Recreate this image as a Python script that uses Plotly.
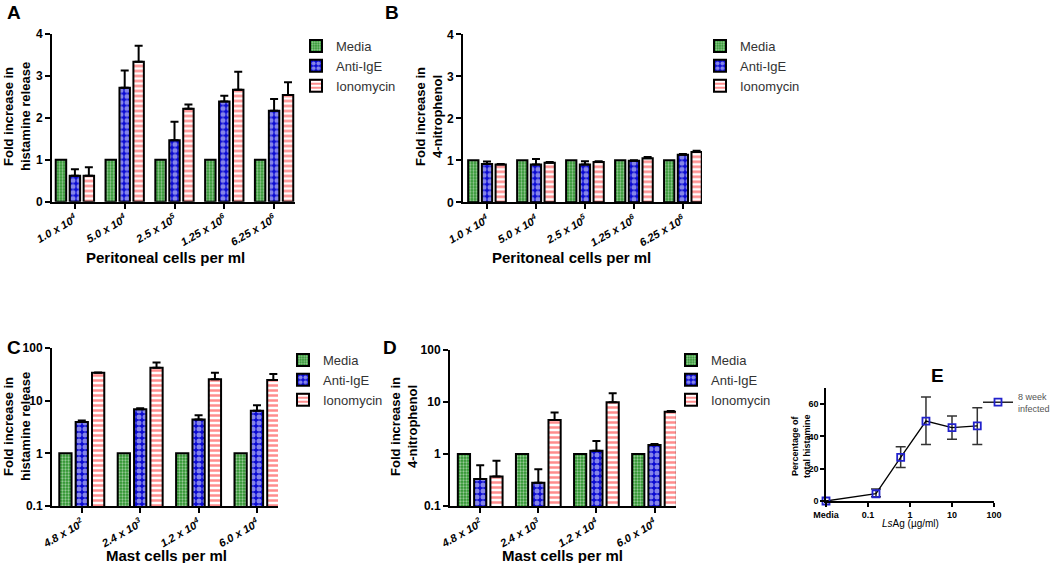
import plotly.graph_objects as go

W, H = 1050, 563

# ---------------- data ----------------
cats_AB = ["1.0 x 10<sup>4</sup>", "5.0 x 10<sup>4</sup>", "2.5 x 10<sup>5</sup>",
           "1.25 x 10<sup>6</sup>", "6.25 x 10<sup>6</sup>"]
cats_CD = ["4.8 x 10<sup>2</sup>", "2.4 x 10<sup>3</sup>", "1.2 x 10<sup>4</sup>",
           "6.0 x 10<sup>4</sup>"]
series_names = ["Media", "Anti-IgE", "Ionomycin"]

A_media = [1, 1, 1, 1, 1]
A_anti = [0.62, 2.71, 1.46, 2.38, 2.16]
A_anti_err = [0.15, 0.41, 0.44, 0.14, 0.28]
A_iono = [0.62, 3.33, 2.21, 2.66, 2.54]
A_iono_err = [0.20, 0.38, 0.10, 0.43, 0.30]

B_media = [1, 1, 1, 1, 1]
B_anti = [0.91, 0.90, 0.90, 0.99, 1.13]
B_anti_err = [0.06, 0.13, 0.08, 0.01, 0.02]
B_iono = [0.90, 0.94, 0.96, 1.05, 1.20]
B_iono_err = [0.01, 0.02, 0.02, 0.03, 0.03]

C_media = [1, 1, 1, 1]
C_anti = [3.95, 6.9, 4.4, 6.4]
C_anti_upper = [4.2, 7.2, 5.3, 8.2]
C_iono = [33.8, 42, 25.4, 24.6]
C_iono_upper = [34.3, 53, 33.8, 32]

D_media = [1, 1, 1, 1]
D_anti = [0.33, 0.28, 1.16, 1.49]
D_anti_upper = [0.61, 0.51, 1.78, 1.55]
D_iono = [0.37, 4.5, 9.9, 6.5]
D_iono_upper = [0.74, 6.3, 14.7, 6.7]

E_x = [0.01, 0.155, 0.6, 2.4, 10, 40]
E_y = [0, 4.5, 27, 49.5, 45.5, 46.5]
E_err_up = [0, 2.9, 6.6, 15.0, 7.2, 11.2]
E_err_down = [0, 1.8, 6.2, 14.5, 7.3, 11.5]
E_ticks = [0.01, 0.1, 1, 10, 100]
E_ticktext = ["Media", "0.1", "1", "10", "100"]

# ---------------- styling ----------------
FONT = "Liberation Sans, Arial, sans-serif"
patterns = [
    dict(shape=".", bgcolor="#2a922a", fgcolor="white", size=3, solidity=0.45),
    dict(shape=".", bgcolor="#0a0ad2", fgcolor="white", size=6, solidity=0.55),
    dict(shape="-", bgcolor="white", fgcolor="#ff1c1c", size=5, solidity=0.5),
]


def px_x(p):
    return p / W


def px_y(p):
    return 1 - p / H


fig = go.Figure()


def add_bars(cats, vals_list, errs_list, xa, ya, legend):
    for i, (name, vals, errs) in enumerate(zip(series_names, vals_list, errs_list)):
        ey = None
        if errs is not None:
            ey = dict(type="data", array=errs, arrayminus=[0] * len(errs),
                      symmetric=False, color="black", thickness=2, width=4)
        fig.add_trace(go.Bar(
            x=cats, y=vals, name=name, xaxis=xa, yaxis=ya, legend=legend,
            marker=dict(pattern=patterns[i], line=dict(color="black", width=2)),
            error_y=ey, offsetgroup=str(i),
        ))


add_bars(cats_AB, [A_media, A_anti, A_iono], [None, A_anti_err, A_iono_err], "x", "y", "legend")
add_bars(cats_AB, [B_media, B_anti, B_iono], [None, B_anti_err, B_iono_err], "x2", "y2", "legend2")
add_bars(cats_CD, [C_media, C_anti, C_iono],
         [None, [u - v for u, v in zip(C_anti_upper, C_anti)],
          [u - v for u, v in zip(C_iono_upper, C_iono)]], "x3", "y3", "legend3")
add_bars(cats_CD, [D_media, D_anti, D_iono],
         [None, [u - v for u, v in zip(D_anti_upper, D_anti)],
          [u - v for u, v in zip(D_iono_upper, D_iono)]], "x4", "y4", "legend4")

fig.add_trace(go.Scatter(
    x=E_x, y=E_y, mode="lines+markers", name="8 week<br>infected",
    xaxis="x5", yaxis="y5", legend="legend5", cliponaxis=False,
    line=dict(color="black", width=1.3),
    marker=dict(symbol="square-open", size=7, color="#2222cc", line=dict(width=1.8, color="#2222cc")),
    error_y=dict(type="data", array=E_err_up, arrayminus=E_err_down, symmetric=False,
                 color="#333333", thickness=1.5, width=5),
))

axis_common = dict(showline=True, linecolor="black", linewidth=2, ticks="outside",
                   ticklen=5, tickwidth=2, tickcolor="black", showgrid=False,
                   zeroline=False, fixedrange=True)
tickf = dict(family=FONT, size=12, color="black", weight="bold")
xtickf = dict(family=FONT, size=11, color="black", weight="bold", style="italic")
small_axis = {**axis_common, "linewidth": 1.5, "tickwidth": 1.5, "ticklen": 4}

layout = dict(
    width=W, height=H, margin=dict(l=0, r=0, t=0, b=0, autoexpand=False),
    paper_bgcolor="white", plot_bgcolor="white",
    barmode="group", bargap=0.16, bargroupgap=0.25,
    font=dict(family=FONT, color="black"),
    xaxis=dict(domain=[px_x(52), px_x(295)], anchor="y", type="category",
               range=[-0.46, 4.42], tickangle=-30, tickfont=xtickf, **axis_common),
    yaxis=dict(domain=[px_y(201.7), px_y(33.5)], anchor="x", range=[0, 4],
               tickvals=[0, 1, 2, 3, 4], tickfont=tickf, **axis_common),
    xaxis2=dict(domain=[px_x(463), px_x(702)], anchor="y2", type="category",
                range=[-0.49, 4.39], tickangle=-30, tickfont=xtickf, **axis_common),
    yaxis2=dict(domain=[px_y(202.3), px_y(34.3)], anchor="x2", range=[0, 4],
                tickvals=[0, 1, 2, 3, 4], tickfont=tickf, **axis_common),
    xaxis3=dict(domain=[px_x(52), px_x(278)], anchor="y3", type="category",
                range=[-0.51, 3.36], tickangle=-30, tickfont=xtickf, **axis_common),
    yaxis3=dict(domain=[px_y(506), px_y(348)], anchor="x3", type="log", range=[-1, 2],
                tickvals=[0.1, 1, 10, 100], ticktext=["0.1", "1", "10", "100"],
                tickfont=tickf, **axis_common),
    xaxis4=dict(domain=[px_x(450), px_x(676)], anchor="y4", type="category",
                range=[-0.52, 3.37], tickangle=-30, tickfont=xtickf, **axis_common),
    yaxis4=dict(domain=[px_y(506), px_y(350)], anchor="x4", type="log", range=[-1, 2],
                tickvals=[0.1, 1, 10, 100], ticktext=["0.1", "1", "10", "100"],
                tickfont=tickf, **axis_common),
    xaxis5=dict(domain=[px_x(826), px_x(994)], anchor="y5", type="log", range=[-2, 2],
                tickvals=E_ticks, ticktext=E_ticktext,
                tickfont=dict(family=FONT, size=9, color="black", weight="bold"),
                **small_axis),
    yaxis5=dict(domain=[px_y(501), px_y(388)], anchor="x5", range=[0, 70],
                tickvals=[0, 20, 40, 60],
                tickfont=dict(family=FONT, size=9, color="black", weight="bold"),
                **small_axis),
)

legfont = dict(family=FONT, size=13, color="#333333")
for key, (lx, ly) in {"legend": (296, 31), "legend2": (700, 31),
                      "legend3": (283, 345), "legend4": (671, 345)}.items():
    layout[key] = dict(x=px_x(lx), y=px_y(ly), xanchor="left", yanchor="top",
                       bgcolor="rgba(0,0,0,0)", font=legfont, tracegroupgap=0,
                       itemclick=False, itemdoubleclick=False)
layout["legend5"] = dict(x=px_x(978), y=px_y(384), xanchor="left", yanchor="top",
                         bgcolor="rgba(0,0,0,0)",
                         font=dict(family=FONT, size=9, color="#555555"))

fig.update_layout(**layout)

annots = []
bold = dict(family=FONT, color="black", weight="bold")


def ann(text, x, y, size, angle=0):
    annots.append(dict(text=text, x=px_x(x), y=px_y(y), xref="paper", yref="paper",
                       showarrow=False, textangle=angle, xanchor="center", yanchor="middle",
                       font=dict(bold, size=size)))


# panel letters
ann("A", 14, 12, 19)
ann("B", 392, 12, 19)
ann("C", 14, 347, 19)
ann("D", 390, 347, 19)
ann("E", 937, 375, 19)
# axis titles
ann("Fold increase in<br>histamine release", 17, 117, 13, -90)
ann("Fold increase in<br>4-nitrophenol", 429, 117, 13, -90)
ann("Fold increase in<br>histamine release", 17, 427, 13, -90)
ann("Fold increase in<br>4-nitrophenol", 404, 427, 13, -90)
ann("Peritoneal cells per ml", 165, 257, 15)
ann("Peritoneal cells per ml", 571, 257, 15)
ann("Mast cells per ml", 166, 555, 15)
ann("Mast cells per ml", 562, 555, 15)
ann("Percentage of<br>total histamine", 801, 446, 9, -90)
annots.append(dict(text="<i>Ls</i>Ag (µg/ml)", x=px_x(910), y=px_y(523), xref="paper",
                   yref="paper", showarrow=False, xanchor="center", yanchor="middle",
                   font=dict(family=FONT, size=10, color="black")))
fig.update_layout(annotations=annots)

fig.write_html("out.html", config={"displayModeBar": False},
               post_script="document.body.style.margin='0';")
